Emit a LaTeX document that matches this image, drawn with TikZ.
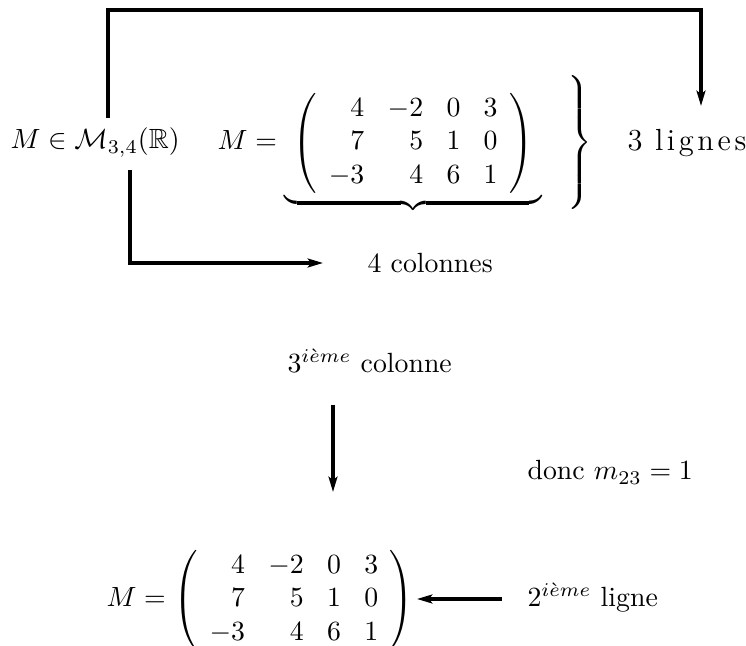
\documentclass[tikz,border=0pt]{standalone}
\usepackage{amsmath,amssymb}
\usetikzlibrary{arrows.meta}
\newcommand\mymat{\begin{array}{rrrr}4&-2&0&3\\7&5&1&0\\-3&4&6&1\end{array}}
\newcommand\lsp{\kern1.3pt}
\setlength\arraycolsep{4.2pt}
\begin{document}
\begin{tikzpicture}[x=0.36pt,y=-0.36pt,
  lbl/.style={anchor=base west,inner sep=0pt},
  conn/.style={line width=1.25pt},
  arr/.style={conn,-{Stealth[length=5.5pt,width=3.2pt,inset=1.2pt]}}]
\useasboundingbox (0,0) rectangle (746,646);
% top row
\node[lbl] (mspace) at (10,149) {$M\in\mathcal{M}_{3,4}(\mathbb{R})$};
\node[lbl] (mtop) at (217,150) {$M = \underbrace{\hspace{3pt}\left(\mymat\right)\hspace{3pt}}$};
\node (brace) at (578,142.5) {$\left.\vrule height 27pt depth 22pt width 0pt\right\}$};
\node[lbl] (lig) at (627,151) {\fontsize{11}{13}\selectfont 3\hspace{4.5pt}l\lsp i\lsp g\lsp n\lsp e\lsp s};
\node[lbl] (col) at (367,273) {4 colonnes};
% middle
\node[lbl] (col3) at (287,373) {$3^{i\grave{e}me}$ colonne};
\node[lbl] (donc) at (527,480) {donc $m_{23}=1$};
% bottom
\node[lbl] (mbot) at (106,607) {$M = \left(\mymat\right)$};
\node[lbl] (lig2) at (527,607) {$2^{i\grave{e}me}$ ligne};
% connector points
\coordinate (a1) at (108,118);
\coordinate (a2) at (108,10);
\coordinate (a3) at (701,10);
\coordinate (a4) at (701,106);
\coordinate (b1) at (130,170);
\coordinate (b2) at (130,263);
\coordinate (b3) at (323,263);
\coordinate (c1) at (333,405);
\coordinate (c2) at (333,492);
\coordinate (d1) at (502,599);
\coordinate (d2) at (417,599);
\draw[arr] (a1) -- (a2) -- (a3) -- (a4);
\draw[arr] (b1) -- (b2) -- (b3);
\draw[arr] (c1) -- (c2);
\draw[arr] (d1) -- (d2);
\end{tikzpicture}
\end{document}
